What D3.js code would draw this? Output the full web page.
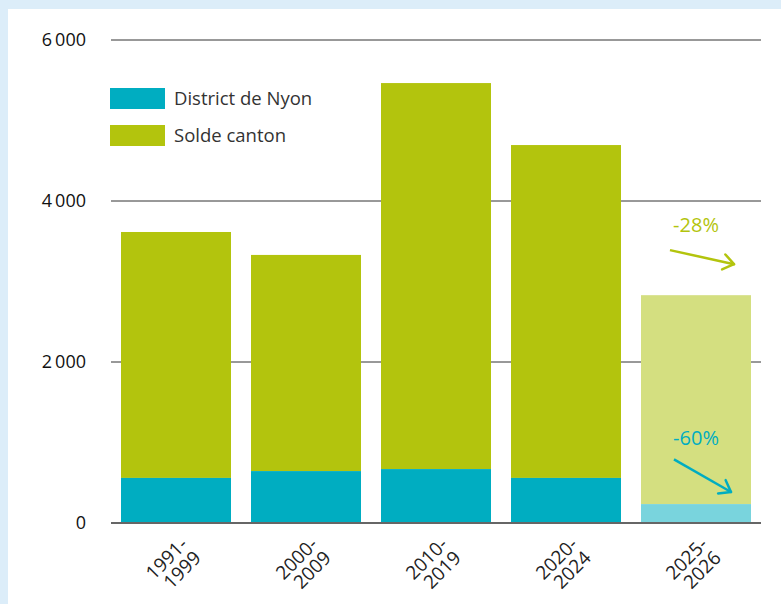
<!DOCTYPE html>
<html>
<head>
<meta charset="utf-8">
<script src="https://cdn.jsdelivr.net/npm/d3@7"></script>
<style>
  body { margin: 0; background: #dcedf9; }
  svg { display: block; font-family: "Open Sans", sans-serif; }
</style>
</head>
<body>
<div id="chart"></div>
<script>
// data
const periods = [["1991-", "1999"], ["2000-", "2009"], ["2010-", "2019"], ["2020-", "2024"], ["2025-", "2026"]];
const nyon = [560, 645, 670, 560, 235];
const solde = [3055, 2685, 4795, 4135, 2595];
const yTicks = [0, 2000, 4000, 6000];
const legendLabels = ["District de Nyon", "Solde canton"];
const changes = ["-28%", "-60%"];

const W = 781, H = 604;
const margin = { top: 40, right: 20, bottom: 81, left: 111 };

const blue = "#00adc1", green = "#b3c40d";
const blueLight = "#79d4dd", greenLight = "#d4df80";

const svg = d3.select("#chart").append("svg")
  .attr("width", W).attr("height", H);

// white panel
svg.append("rect").attr("x", 8).attr("y", 9)
  .attr("width", W - 8).attr("height", H - 9).attr("fill", "#fff");

const x = d3.scaleBand()
  .domain(periods.map((d, i) => i))
  .range([margin.left, W - margin.right])
  .paddingInner(20 / 130)
  .paddingOuter(10 / 130);

const y = d3.scaleLinear().domain([0, 6000]).range([H - margin.bottom, margin.top]);

const fmt = v => d3.format(",")(v).replace(",", "\u2009");

// gridlines + tick labels
const grid = svg.append("g");
yTicks.forEach(t => {
  grid.append("line")
    .attr("x1", margin.left).attr("x2", W - margin.right)
    .attr("y1", y(t)).attr("y2", y(t))
    .attr("stroke", t === 0 ? "#666" : "#333")
    .attr("stroke-width", t === 0 ? 2 : 1);
  grid.append("text")
    .attr("x", 86).attr("y", y(t)).attr("dy", "0.35em")
    .attr("text-anchor", "end")
    .attr("font-size", 18).attr("fill", "#111")
    .text(fmt(t));
});

// bars
const bars = svg.append("g");
periods.forEach((p, i) => {
  const last = i === periods.length - 1;
  bars.append("rect")
    .attr("x", x(i)).attr("width", x.bandwidth())
    .attr("y", y(nyon[i] + solde[i]))
    .attr("height", y(nyon[i]) - y(nyon[i] + solde[i]))
    .attr("fill", last ? greenLight : green);
  bars.append("rect")
    .attr("x", x(i)).attr("width", x.bandwidth())
    .attr("y", y(nyon[i]))
    .attr("height", y(0) - y(nyon[i]))
    .attr("fill", last ? blueLight : blue);
});

// redraw baseline on top
svg.append("line")
  .attr("x1", margin.left).attr("x2", W - margin.right)
  .attr("y1", y(0)).attr("y2", y(0))
  .attr("stroke", "#666").attr("stroke-width", 2);

// x labels, rotated
periods.forEach((p, i) => {
  const cx = x(i) + x.bandwidth() / 2 + 2;
  const t = svg.append("text")
    .attr("transform", `translate(${cx},${y(0) + 12}) rotate(-45)`)
    .attr("text-anchor", "end")
    .attr("font-size", 19).attr("fill", "#222");
  t.append("tspan").attr("x", 0).attr("dy", "0.8em").text(p[0]);
  t.append("tspan").attr("x", 0).attr("dy", "1.0em").text(p[1]);
});

// legend
const legend = svg.append("g");
legendLabels.forEach((l, i) => {
  const ly = 88 + i * 37;
  legend.append("rect").attr("x", 110).attr("y", ly)
    .attr("width", 55).attr("height", 21)
    .attr("fill", i === 0 ? blue : green);
  legend.append("text").attr("x", 174).attr("y", ly + 10.5).attr("dy", "0.35em")
    .attr("font-size", 18.5).attr("fill", "#333").text(l);
});

// change annotations
const lastX = x(periods.length - 1);
const bw = x.bandwidth();
const annot = [
  { text: changes[0], color: green, ty: y(3700), a: [[lastX + 29, y(3390)], [lastX + 93, y(3215)]] },
  { text: changes[1], color: blue, ty: y(1060), a: [[lastX + 33, y(790)], [lastX + 90, y(385)]] }
];
annot.forEach(d => {
  svg.append("text").attr("x", lastX + bw / 2).attr("y", d.ty).attr("dy", "0.35em")
    .attr("text-anchor", "middle").attr("font-size", 20).attr("fill", d.color).text(d.text);
  const [p0, p1] = d.a;
  svg.append("line")
    .attr("x1", p0[0]).attr("y1", p0[1]).attr("x2", p1[0]).attr("y2", p1[1])
    .attr("stroke", d.color).attr("stroke-width", 2.5);
  const ang = Math.atan2(p1[1] - p0[1], p1[0] - p0[0]);
  const len = 13;
  [Math.PI * 0.8, -Math.PI * 0.8].forEach(o => {
    svg.append("line")
      .attr("x1", p1[0]).attr("y1", p1[1])
      .attr("x2", p1[0] + len * Math.cos(ang + o)).attr("y2", p1[1] + len * Math.sin(ang + o))
      .attr("stroke", d.color).attr("stroke-width", 2.5).attr("stroke-linecap", "round");
  });
});
</script>
</body>
</html>
